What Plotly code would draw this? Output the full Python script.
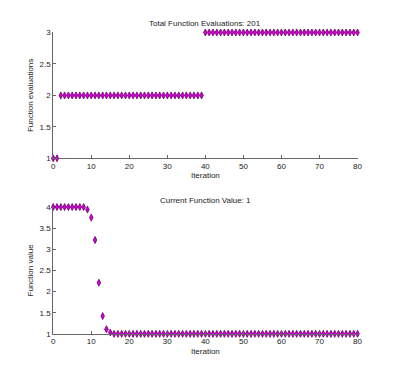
import plotly.graph_objects as go

iters = list(range(0, 81))
evals = [1, 1] + [2] * 38 + [3] * 41
fvals = [4, 4, 4, 4, 4, 4, 4, 4, 4, 3.94, 3.75, 3.22, 2.21, 1.42, 1.11, 1.03] + [1.0] * 65

top_title = "Total Function Evaluations: 201"
bot_title = "Current Function Value: 1"

OFF = 8  # page body margin
W, H = 400 - 2 * OFF, 380 - 2 * OFF
def px(x):
    return (x - OFF) / W
def py(y):
    return (H - (y - OFF)) / H

fig = go.Figure()
mk = dict(symbol="diamond-tall", size=5, color="#d400d4", line=dict(color="#6a006a", width=0.8))
fig.add_trace(go.Scatter(x=iters, y=evals, mode="markers", marker=mk, xaxis="x", yaxis="y", cliponaxis=False))
fig.add_trace(go.Scatter(x=iters, y=fvals, mode="markers", marker=mk, xaxis="x2", yaxis="y2", cliponaxis=False))

font = dict(family="Liberation Sans, Arial, sans-serif", size=8, color="#222222")
ax = dict(showgrid=False, zeroline=False, showline=True, linecolor="#666666", linewidth=1,
          ticks="inside", ticklen=3, tickcolor="#666666", tickfont=font, mirror=False)

fig.update_layout(
    width=W, height=H, margin=dict(l=0, r=0, t=0, b=0),
    paper_bgcolor="white", plot_bgcolor="white", showlegend=False,
    xaxis=dict(ax, domain=[px(52), px(362)], range=[0, 80], tickvals=[0, 10, 20, 30, 40, 50, 60, 70, 80],
               anchor="y", title=dict(text="Iteration", font=font, standoff=2)),
    yaxis=dict(ax, domain=[py(158), py(29)], range=[1, 3], tickvals=[1, 1.5, 2, 2.5, 3],
               anchor="x", title=dict(text="Function evaluations", font=font, standoff=4)),
    xaxis2=dict(ax, domain=[px(52), px(362)], range=[0, 80], tickvals=[0, 10, 20, 30, 40, 50, 60, 70, 80],
                anchor="y2", title=dict(text="Iteration", font=font, standoff=2)),
    yaxis2=dict(ax, domain=[py(338), py(208)], range=[1, 4], tickvals=[1, 1.5, 2, 2.5, 3, 3.5, 4],
                anchor="x2", title=dict(text="Function value", font=font, standoff=4)),
    annotations=[
        dict(text=top_title, x=px(207), y=py(20), xref="paper", yref="paper", showarrow=False,
             font=font, xanchor="center", yanchor="middle"),
        dict(text=bot_title, x=px(207), y=py(201), xref="paper", yref="paper", showarrow=False,
             font=font, xanchor="center", yanchor="middle"),
    ],
)

fig.write_html("out.html")
